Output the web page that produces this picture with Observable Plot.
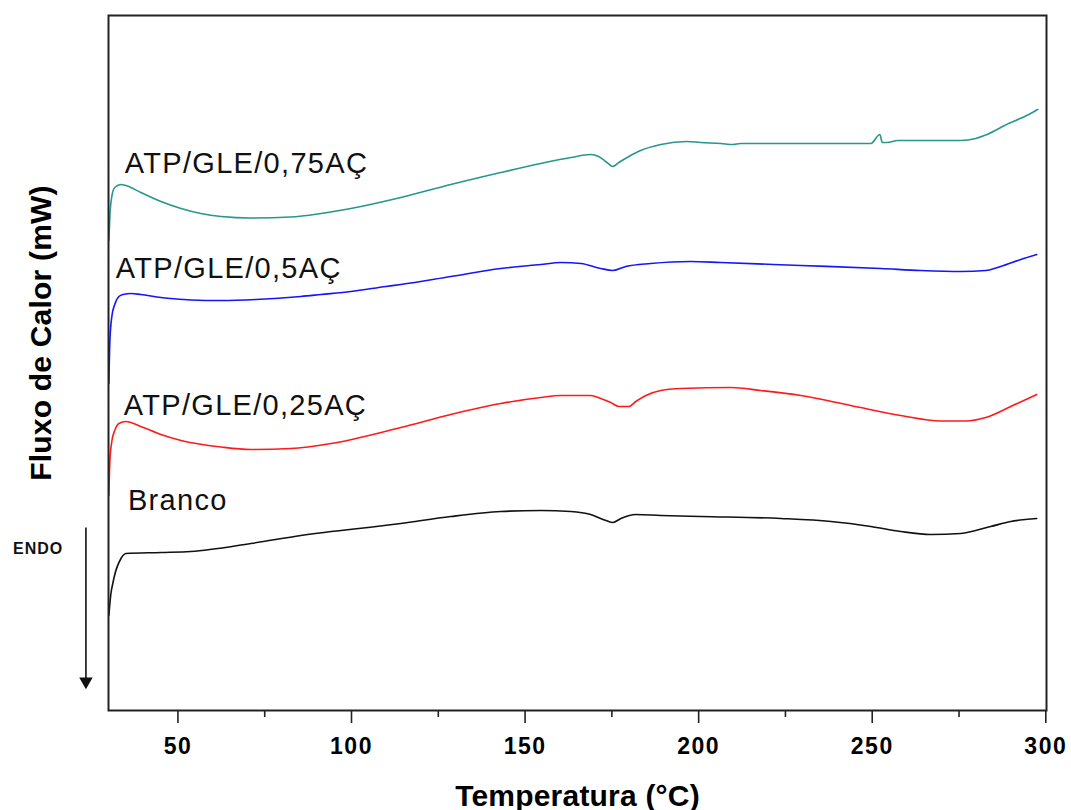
<!DOCTYPE html>
<html>
<head>
<meta charset="utf-8">
<script src="https://cdn.jsdelivr.net/npm/d3@7"></script>
<script src="https://cdn.jsdelivr.net/npm/@observablehq/plot@0.6"></script>
<style>
  html, body { margin: 0; padding: 0; background: #fff; }
  #chart svg { display: block; }
</style>
</head>
<body>
<div id="chart"></div>
<script>
// Series names (labels as printed) and colours
const seriesNames = ["ATP/GLE/0,75AÇ", "ATP/GLE/0,5AÇ", "ATP/GLE/0,25AÇ", "Branco"];
const seriesColors = ["#25978d", "#1414ff", "#ff1a1a", "#111111"];

// Temperature (°C) / heat flow (arbitrary offset units)
const temp075 = [30.1,30.4,31.0,31.8,33.6,35.0,39.3,45.1,50.9,56.6,62.4,71.0,82.5,91.2,99.8,114.2,128.6,143.0,154.5,163.2,168.9,171.2,173.6,175.3,177.0,179.9,183.3,189.1,196.6,200.6,206.4,209.9,212.1,223.7,235.2,246.7,249.6,252.2,252.9,254.3,257.4,259.7,261.1,275.5,279.8,282.3,289.3,295.1,297.7];
const flux075 = [470,495,515,523,526,525,518,509,502,497,494,492.5,493.5,497,502,513,526,538,547,553,556,554,548,544,548,554,560,566,569,568,567,566,567,567,567,567,567,576,568,568,570,570,570,570,572,575,587,596,601];

const temp050 = [30.1,30.4,31.0,31.8,33.0,34.2,36.5,39.3,45.1,48.0,53.7,62.4,72.5,85.4,91.2,99.8,109.9,114.2,128.6,143.0,154.5,160.3,166.1,171.8,175.3,179.0,186.2,197.7,206.4,229.4,252.5,264.0,275.5,282.7,287.0,292.8,297.4];
const flux050 = [327,370,395,406,414,416,417,416,413,412,410.5,410,411,414,416,419,424,426,434,442,446,448,447,442,440,444,447,449,448,445,442,440,439,440,444,451,456];

const temp025 = [30.1,30.4,31.0,31.8,33.0,35.0,39.3,45.1,50.9,62.4,71.0,82.5,94.1,114.2,128.6,143.0,154.5,160.3,168.9,171.8,174.7,177.0,179.9,181.9,184.8,189.1,194.9,209.3,217.9,229.4,243.8,258.2,269.7,276.9,282.7,289.9,297.4];
const flux025 = [215,250,270,280,287,289,284,276,270,263.5,261,262,267,283,296,307,313,315,315,312,308,304,304,309,315,320,322,323,320,315,305,295,289.5,289.5,293,304,316];

const tempBranco = [30.1,30.7,31.3,31.6,33.6,35.0,45.1,53.7,71.0,85.4,114.2,128.6,143.0,154.5,163.2,168.9,173.3,175.3,177.6,181.9,189.1,200.6,223.7,238.1,249.6,258.2,266.9,275.5,284.1,289.9,297.4];
const fluxBranco = [95,117,128,133,152,157,158,159,167,175,187,194,199,200,199,196,190,188,192,196,195,194,192,189,184,179,176,177,184,189,192];

// Axis ticks and texts
const majorTicks = [50, 100, 150, 200, 250, 300];
const minorTicks = [75, 125, 175, 225, 275];
const xTitle = "Temperatura (°C)";
const yTitle = "Fluxo de Calor (mW)";

// Curve labels, anchored in data units (temperature, flux)
const labelTemps = [34.7, 32.1, 34.4, 35.6];
const labelFlux = [538, 433, 296, 201];

// ENDO annotation (data units)
const endoText = "ENDO";
const endoLabel = [{t: 2.5, v: 162}];
const endoArrow = [{t: 23.5, from: 183, to: 24}];

const allSeries = [
  [temp075, flux075], [temp050, flux050], [temp025, flux025], [tempBranco, fluxBranco]
];
const rows = allSeries.flatMap(([T, F], i) => T.map((t, j) => ({series: seriesNames[i], t, v: F[j]})));
const labels = seriesNames.map((name, i) => ({name, t: labelTemps[i], v: labelFlux[i]}));

const chart = Plot.plot({
  width: 1071,
  height: 810,
  marginLeft: 108,
  marginRight: 25,
  marginTop: 15,
  marginBottom: 100,
  style: {fontFamily: "'Liberation Sans', Arial, sans-serif", background: "#fff", color: "#000"},
  x: {domain: [30, 300.2], axis: null},
  y: {domain: [0, 695], axis: null},
  color: {domain: seriesNames, range: seriesColors},
  marks: [
    Plot.line(rows, {x: "t", y: "v", z: "series", stroke: "series", strokeWidth: 1.6, curve: "monotone-x"}),
    Plot.frame({stroke: "#222", strokeWidth: 2}),
    Plot.axisX({ticks: majorTicks, tickSize: 13, tickPadding: 14, fontSize: 23, fontWeight: "bold", stroke: "#222", strokeWidth: 1.6, label: null, tickFormat: d => String(d)}),
    Plot.axisX({ticks: minorTicks, tickSize: 7, stroke: "#222", strokeWidth: 1.6, label: null, tickFormat: () => ""}),
    Plot.text(labels, {x: "t", y: "v", text: "name", textAnchor: "start", lineAnchor: "bottom", fontSize: 29, fill: "#111"}),
    Plot.text([xTitle], {frameAnchor: "bottom", text: d => d, textAnchor: "middle", lineAnchor: "bottom", dy: 95, fontSize: 30, fontWeight: "bold", fill: "#000"}),
    Plot.text([yTitle], {frameAnchor: "left", text: d => d, textAnchor: "middle", rotate: -90, dx: -67, dy: -30, fontSize: 30, fontWeight: "bold", fill: "#000"}),
    Plot.text(endoLabel, {x: "t", y: "v", text: () => endoText, textAnchor: "start", fontSize: 16, fontWeight: "bold", fill: "#111"}),
    Plot.link(endoArrow, {x1: "t", x2: "t", y1: "from", y2: "to", stroke: "#111", strokeWidth: 1.6}),
    Plot.dot(endoArrow, {x: "t", y: "to", symbol: "triangle", rotate: 180, r: 5, fill: "#111", stroke: "none", dy: -5})
  ]
});

document.getElementById("chart").appendChild(chart);

// letter spacing tweaks to match the reference typography
d3.select(chart).selectAll("text").each(function() {
  const s = d3.select(this);
  const t = s.text();
  if (seriesNames.includes(t)) s.style("letter-spacing", "1.3px");
  else if (t === endoText) s.style("letter-spacing", "1px");
  else if (t === xTitle || t === yTitle) s.style("letter-spacing", "0.2px");
  else s.style("letter-spacing", "1.5px");
});
</script>
</body>
</html>
